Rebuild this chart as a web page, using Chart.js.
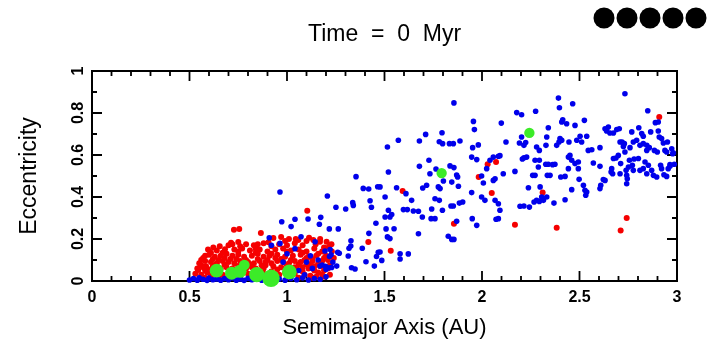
<!DOCTYPE html>
<html>
<head>
<meta charset="utf-8">
<script src="https://cdn.jsdelivr.net/npm/chart.js@4.4.0/dist/chart.umd.min.js"></script>
<style>
  html, body { margin: 0; padding: 0; background: #fff; }
  #wrap { width: 718px; height: 359px; }
</style>
</head>
<body>
<div id="wrap"><canvas id="orbitChart" width="718" height="359"></canvas></div>
<script>
// ---- data: semimajor axis (AU) / eccentricity ----
const xTicks = [0, 0.5, 1, 1.5, 2, 2.5, 3];
const yTicks = [0, 0.2, 0.4, 0.6, 0.8, 1];

// blue planetesimals
const blueA = [
  0.50, 0.52, 0.54, 0.55, 0.57, 0.59, 0.60, 0.62, 0.64, 0.66,
  0.68, 0.70, 0.72, 0.74, 0.76, 0.78, 0.80, 0.82, 0.84, 0.87,
  0.89, 0.93, 0.96, 0.99, 1.02, 1.05, 1.08, 1.11, 1.14, 1.17,
  1.20,
  1.041, 1.195, 1.226, 1.18, 1.197, 1.215, 1.144, 0.964, 0.909, 0.92,
  1.10, 1.13, 1.16, 1.06, 0.98, 1.12, 1.235, 1.255, 1.00, 1.09,
  0.964, 1.354, 1.391, 1.419, 1.465, 1.207, 1.251, 1.301, 1.337, 1.340,
  1.426, 1.433, 0.973, 1.041, 1.108, 1.173, 1.166, 1.021, 1.217, 1.263,
  1.072, 1.328, 1.327, 1.318, 1.386, 1.268, 1.314, 1.218, 1.405, 1.448,
  1.459, 1.468, 1.331, 1.349, 1.229, 1.200, 1.169, 1.456, 1.420, 1.221,
  1.260,
  1.477, 1.503, 1.520, 1.515, 1.562, 1.571, 1.610, 1.597, 1.617, 1.639,
  1.648, 1.520, 1.537, 1.528, 1.508, 1.549, 1.515, 1.528, 1.580, 1.622,
  1.580, 1.486, 1.477, 1.503,
  1.679, 1.711, 1.728, 1.733, 1.679, 1.696, 1.716, 1.674, 1.694, 1.674,
  1.742, 1.759, 1.781, 1.739, 1.759, 1.776, 1.785, 1.795, 1.781, 1.798,
  1.797, 1.802, 1.764,
  1.856, 1.833, 1.853, 1.887, 1.836, 1.856, 1.845, 1.879, 1.841, 1.853,
  1.870, 1.875, 1.884, 1.901, 1.870, 1.827, 1.845, 1.856, 1.956, 1.961,
  1.947, 1.973, 1.952, 1.981, 1.947, 1.950, 1.973,
  1.998, 2.007, 1.998, 2.015, 2.024, 2.041, 2.058, 2.084, 2.058, 2.067,
  2.067, 2.084, 2.092, 2.084, 2.072, 2.099, 2.092, 2.109, 2.123, 2.169,
  2.178, 2.203, 2.192, 2.203, 2.215, 2.224, 2.229, 2.215, 2.207, 2.195,
  2.215, 2.238, 2.243, 2.260, 2.272, 2.267, 2.280, 2.275, 2.272, 2.280,
  2.294, 2.289, 2.294, 2.298, 2.306, 2.294, 2.315, 2.332, 2.327, 2.340,
  2.340, 2.332, 2.328, 2.335, 2.349,
  2.362, 2.374, 2.383, 2.395, 2.369, 2.392, 2.397, 2.409, 2.414, 2.400,
  2.409, 2.404, 2.426, 2.426, 2.434, 2.446, 2.443, 2.451, 2.460, 2.443,
  2.460, 2.465, 2.477, 2.477, 2.494, 2.486, 2.494, 2.498, 2.503, 2.511,
  2.525,
  2.520, 2.528, 2.537, 2.532, 2.537, 2.545, 2.563, 2.571, 2.605, 2.605,
  2.609, 2.605, 2.622, 2.631, 2.631, 2.639, 2.648, 2.656, 2.674, 2.665,
  2.662, 2.670, 2.674, 2.691, 2.704, 2.687, 2.699, 2.708, 2.718, 2.725,
  2.730, 2.733,
  2.708, 2.711, 2.739, 2.751, 2.742, 2.742, 2.745, 2.733, 2.759, 2.756,
  2.771, 2.776, 2.768, 2.776, 2.793, 2.780, 2.802, 2.804, 2.810, 2.827,
  2.845, 2.819, 2.827, 2.810, 2.827, 2.845, 2.836, 2.853, 2.870, 2.850,
  2.845, 2.858, 2.865,
  2.879, 2.896, 2.884, 2.899, 2.889, 2.904, 2.904, 2.909, 2.921, 2.930,
  2.916, 2.921, 2.938, 2.947, 2.933, 2.947, 2.955, 2.964, 2.973, 2.978,
  2.981, 2.964, 2.986, 2.951
];
const blueE = [
  0.005, 0.012, 0.004, 0.015, 0.008, 0.003, 0.014, 0.006, 0.010, 0.004,
  0.012, 0.006, 0.015, 0.004, 0.010, 0.003, 0.013, 0.006, 0.010, 0.004,
  0.012, 0.006, 0.010, 0.004, 0.012, 0.006, 0.015, 0.005, 0.012, 0.008,
  0.020,
  0.154, 0.143, 0.125, 0.076, 0.070, 0.063, 0.187, 0.179, 0.206, 0.170,
  0.090, 0.060, 0.100, 0.050, 0.090, 0.120, 0.090, 0.071, 0.130, 0.030,
  0.424, 0.497, 0.441, 0.438, 0.449, 0.405, 0.351, 0.343, 0.373, 0.360,
  0.382, 0.351, 0.282, 0.294, 0.295, 0.303, 0.270, 0.259, 0.248, 0.248,
  0.211, 0.192, 0.167, 0.156, 0.156, 0.132, 0.119, 0.117, 0.092, 0.071,
  0.117, 0.137, 0.063, 0.057, 0.064, 0.056, 0.071, 0.275, 0.227, 0.150,
  0.137,
  0.448, 0.400, 0.519, 0.638, 0.444, 0.670, 0.416, 0.340, 0.340, 0.384,
  0.333, 0.337, 0.317, 0.305, 0.248, 0.249, 0.210, 0.202, 0.130, 0.129,
  0.105, 0.098, 0.138, 0.305,
  0.667, 0.698, 0.575, 0.511, 0.546, 0.443, 0.456, 0.332, 0.305, 0.225,
  0.343, 0.392, 0.384, 0.297, 0.297, 0.448, 0.440, 0.706, 0.663, 0.654,
  0.337, 0.476, 0.533,
  0.848, 0.654, 0.654, 0.667, 0.548, 0.540, 0.471, 0.451, 0.357, 0.357,
  0.505, 0.495, 0.371, 0.376, 0.284, 0.213, 0.198, 0.198, 0.760, 0.721,
  0.590, 0.578, 0.635, 0.648, 0.421, 0.297, 0.265,
  0.500, 0.467, 0.400, 0.384, 0.535, 0.575, 0.590, 0.594, 0.479, 0.487,
  0.384, 0.368, 0.337, 0.297, 0.294, 0.752, 0.597, 0.511, 0.662, 0.522,
  0.802, 0.792, 0.657, 0.686, 0.646, 0.659, 0.590, 0.587, 0.581, 0.356,
  0.357, 0.444, 0.352, 0.503, 0.503, 0.376, 0.384, 0.808, 0.575, 0.638,
  0.622, 0.543, 0.575, 0.448, 0.400, 0.379, 0.384, 0.400, 0.556, 0.556,
  0.730, 0.686, 0.646, 0.503, 0.503,
  0.554, 0.556, 0.646, 0.662, 0.371, 0.871, 0.825, 0.757, 0.768, 0.678,
  0.670, 0.495, 0.498, 0.387, 0.749, 0.662, 0.590, 0.598, 0.575, 0.535,
  0.435, 0.844, 0.741, 0.559, 0.567, 0.670, 0.535, 0.484, 0.689, 0.662,
  0.765,
  0.456, 0.432, 0.424, 0.408, 0.689, 0.622, 0.625, 0.562, 0.635, 0.546,
  0.456, 0.440, 0.483, 0.479, 0.725, 0.714, 0.733, 0.705, 0.705, 0.535,
  0.519, 0.511, 0.583, 0.721, 0.725, 0.586, 0.598, 0.662, 0.662, 0.641,
  0.654, 0.892,
  0.511, 0.559, 0.527, 0.543, 0.503, 0.463, 0.487, 0.614, 0.635, 0.575,
  0.551, 0.527, 0.710, 0.662, 0.670, 0.581, 0.583, 0.730, 0.646, 0.654,
  0.646, 0.702, 0.689, 0.527, 0.535, 0.511, 0.567, 0.551, 0.527, 0.811,
  0.622, 0.635, 0.710,
  0.503, 0.495, 0.622, 0.614, 0.754, 0.757, 0.714, 0.686, 0.678, 0.657,
  0.551, 0.535, 0.622, 0.614, 0.506, 0.498, 0.535, 0.546, 0.630, 0.606,
  0.610, 0.554, 0.556, 0.662
];

// red planetesimals
const redA = [
  1.104, 1.417, 1.593, 1.532, 1.856, 1.983, 2.029, 2.072, 2.050, 2.169,
  2.311, 2.383, 2.711, 2.742, 2.909, 0.728, 0.755, 0.866, 0.622, 0.713,
  0.750, 0.682, 0.839, 0.545,
  1.058, 1.113, 1.135, 1.169, 1.203, 0.93, 0.97, 1.01,
  0.70, 0.79, 0.83, 0.88, 0.92, 0.96, 1.00, 1.04, 1.08, 1.147, 1.215, 1.228, 1.19,
  0.58, 0.64, 0.67, 0.73, 0.77, 0.81, 0.86, 0.90, 0.94, 0.98, 1.02, 1.06, 1.10, 1.14, 1.18,
  0.61, 0.75, 0.84, 0.92, 1.00, 1.08, 1.16,
  0.56, 0.60, 0.63, 0.66, 0.69, 0.72, 0.75, 0.78, 0.82, 0.85, 0.88, 0.91, 0.95, 0.99, 1.03, 1.07, 1.11, 1.15, 1.19,
  0.57, 0.62, 0.68, 0.74, 0.79, 0.85, 0.90, 0.97, 1.02, 1.09, 1.13, 1.18,
  0.55, 0.58, 0.61, 0.64, 0.67, 0.70, 0.73, 0.76, 0.80, 0.83, 0.86, 0.89, 0.92, 0.95, 0.98, 1.01, 1.04, 1.07, 1.10, 1.13, 1.16, 1.21,
  0.56, 0.63, 0.68, 0.75, 0.81, 0.87, 0.93, 1.00, 1.06, 1.12, 1.17, 1.22,
  0.54, 0.57, 0.60, 0.62, 0.66, 0.69, 0.72, 0.79, 0.82, 0.88, 0.95, 0.97, 1.05, 1.08, 1.11, 1.14, 1.19,
  0.58, 0.64, 0.71, 0.86, 0.92, 1.02, 1.08, 1.14, 1.18,
  0.53, 0.56, 0.59, 0.67, 0.80, 0.88, 0.96, 1.00, 1.04, 1.09, 1.12, 1.16, 1.22,
  0.58, 0.65, 0.76, 0.83, 1.06, 1.15,
  0.595, 0.655, 0.72, 0.76, 0.85, 0.905, 0.99, 1.045, 1.10, 1.17,
  0.61, 0.70, 0.73, 0.86, 0.91, 0.99, 1.13, 1.19,
  0.585, 0.65, 0.71, 0.77, 0.84, 0.89, 0.94, 1.04, 1.10, 1.20, 1.23, 1.24, 1.21
];
const redE = [
  0.335, 0.186, 0.429, 0.144, 0.273, 0.495, 0.556, 0.567, 0.419, 0.268,
  0.421, 0.254, 0.241, 0.300, 0.781, 0.244, 0.248, 0.228, 0.159, 0.182,
  0.186, 0.151, 0.154, 0.052,
  0.195, 0.206, 0.195, 0.187, 0.187, 0.205, 0.210, 0.200,
  0.170, 0.175, 0.170, 0.180, 0.165, 0.175, 0.170, 0.180, 0.170, 0.175, 0.163, 0.175, 0.160,
  0.120, 0.145, 0.135, 0.150, 0.155, 0.145, 0.150, 0.140, 0.150, 0.155, 0.145, 0.150, 0.140, 0.155, 0.140,
  0.135, 0.140, 0.135, 0.130, 0.140, 0.135, 0.130,
  0.100, 0.125, 0.115, 0.120, 0.130, 0.120, 0.125, 0.115, 0.120, 0.130, 0.115, 0.120, 0.125, 0.115, 0.120, 0.125, 0.115, 0.120, 0.110,
  0.110, 0.105, 0.110, 0.105, 0.100, 0.105, 0.100, 0.105, 0.100, 0.100, 0.105, 0.095,
  0.085, 0.095, 0.090, 0.085, 0.095, 0.090, 0.085, 0.095, 0.090, 0.085, 0.095, 0.090, 0.085, 0.095, 0.090, 0.085, 0.095, 0.090, 0.110, 0.095, 0.085, 0.100,
  0.075, 0.075, 0.078, 0.072, 0.078, 0.075, 0.070, 0.075, 0.078, 0.080, 0.070, 0.075,
  0.060, 0.065, 0.055, 0.070, 0.060, 0.065, 0.060, 0.060, 0.065, 0.060, 0.055, 0.065, 0.060, 0.065, 0.060, 0.070, 0.050,
  0.050, 0.045, 0.045, 0.048, 0.045, 0.050, 0.045, 0.050, 0.030,
  0.035, 0.030, 0.040, 0.030, 0.035, 0.035, 0.030, 0.020, 0.035, 0.030, 0.025, 0.040, 0.030,
  0.015, 0.020, 0.020, 0.015, 0.015, 0.020,
  0.150, 0.165, 0.175, 0.165, 0.175, 0.185, 0.190, 0.200, 0.190, 0.200,
  0.025, 0.025, 0.030, 0.020, 0.025, 0.040, 0.015, 0.020,
  0.070, 0.100, 0.105, 0.080, 0.060, 0.075, 0.110, 0.065, 0.080, 0.120, 0.140, 0.110, 0.060
];

// green embryos (relative mass sets the marker size)
const greenA = [0.639, 0.716, 0.759, 0.781, 0.845, 0.918, 1.012, 1.793, 2.243];
const greenE = [0.049, 0.037, 0.046, 0.076, 0.030, 0.013, 0.043, 0.514, 0.705];
const greenMass = [0.19, 0.16, 0.16, 0.09, 0.26, 0.38, 0.23, 0.08, 0.08];

const toPoints = (xs, ys) => xs.map((x, i) => ({ x: x, y: ys[i] }));

Chart.defaults.font.family = "'Liberation Sans', Arial, sans-serif";
Chart.defaults.color = '#000';

// frame with inward ticks on all four sides, rotated y labels, header dots
const framePlugin = {
    id: 'framePlugin',
    beforeDatasetsDraw(chart) {
        const { ctx, chartArea: a, scales: { x, y } } = chart;
        ctx.save();
        ctx.strokeStyle = '#000';
        ctx.lineWidth = 2;
        ctx.strokeRect(a.left, a.top, a.right - a.left, a.bottom - a.top);
        ctx.lineWidth = 1.8;
        ctx.beginPath();
        for (let i = 0; i <= 30; i++) {
            const px = x.getPixelForValue(i / 10);
            const len = i % 5 === 0 ? 10 : 5;
            ctx.moveTo(px, a.bottom); ctx.lineTo(px, a.bottom - len);
            ctx.moveTo(px, a.top); ctx.lineTo(px, a.top + len);
        }
        for (let i = 0; i <= 10; i++) {
            const py = y.getPixelForValue(i / 10);
            const len = i % 2 === 0 ? 10 : 5;
            ctx.moveTo(a.left, py); ctx.lineTo(a.left + len, py);
            ctx.moveTo(a.right, py); ctx.lineTo(a.right - len, py);
        }
        ctx.stroke();
        ctx.restore();
    },
    afterDraw(chart) {
        const { ctx, chartArea: a, scales: { y } } = chart;
        ctx.save();
        ctx.fillStyle = '#000';
        ctx.font = "bold 16px 'Liberation Sans', Arial, sans-serif";
        ctx.textAlign = 'center';
        ctx.textBaseline = 'middle';
        y.ticks.forEach(t => {
            ctx.save();
            ctx.translate(a.left - 13, y.getPixelForValue(t.value));
            ctx.rotate(-Math.PI / 2);
            ctx.fillText(t.label, 0, 0);
            ctx.restore();
        });
        // five black dots in the upper right corner
        for (let i = 0; i < 5; i++) {
            ctx.beginPath();
            ctx.arc(604 + i * 23, 18, 10.5, 0, Math.PI * 2);
            ctx.fill();
        }
        ctx.restore();
    }
};

const ctx = document.getElementById('orbitChart').getContext('2d');
// first dataset is painted last, so the green embryos go first
const orbitChart = new Chart(ctx, {
    type: 'scatter',
    data: {
        datasets: [
            {
                data: toPoints(greenA, greenE),
                backgroundColor: 'rgb(60,235,40)',
                pointRadius: greenMass.map(m => 12 * Math.cbrt(m)),
                borderWidth: 0,
                clip: false
            },
            {
                data: toPoints(blueA, blueE),
                backgroundColor: 'rgb(0,0,235)',
                pointRadius: 2.8,
                borderWidth: 0,
                clip: false
            },
            {
                data: toPoints(redA, redE),
                backgroundColor: 'rgb(245,0,0)',
                pointRadius: 3,
                borderWidth: 0,
                clip: false
            }
        ]
    },
    options: {
        responsive: false,
        animation: false,
        devicePixelRatio: 1,
        layout: { padding: { left: 0, right: 41, top: 0, bottom: 0 } },
        plugins: {
            legend: { display: false },
            tooltip: { enabled: false },
            title: {
                display: true,
                text: 'Time  =  0  Myr',
                fullSize: false,
                color: '#000',
                font: { size: 23, weight: 'normal' },
                padding: { top: 21, bottom: 22.4 }
            }
        },
        scales: {
            x: {
                type: 'linear',
                min: 0,
                max: 3,
                afterFit(s) { s.height = 78; },
                grid: { display: false, drawTicks: false },
                border: { display: false },
                ticks: {
                    stepSize: 0.5,
                    padding: 7,
                    maxRotation: 0,
                    font: { size: 16, weight: 'bold' },
                    callback: v => xTicks.includes(v) ? String(v) : ''
                },
                title: {
                    display: true,
                    text: 'Semimajor Axis (AU)',
                    font: { size: 22 },
                    padding: { top: 0, bottom: 18 }
                }
            },
            y: {
                type: 'linear',
                min: 0,
                max: 1,
                afterFit(s) { s.width = 92; },
                grid: { display: false, drawTicks: false },
                border: { display: false },
                ticks: {
                    stepSize: 0.2,
                    display: false,
                    callback: v => yTicks.includes(Math.round(v * 10) / 10) ? String(Math.round(v * 10) / 10) : ''
                },
                title: {
                    display: true,
                    text: 'Eccentricity',
                    font: { size: 23 },
                    padding: { top: 16, bottom: 0 }
                }
            }
        }
    },
    plugins: [framePlugin]
});
</script>
</body>
</html>
